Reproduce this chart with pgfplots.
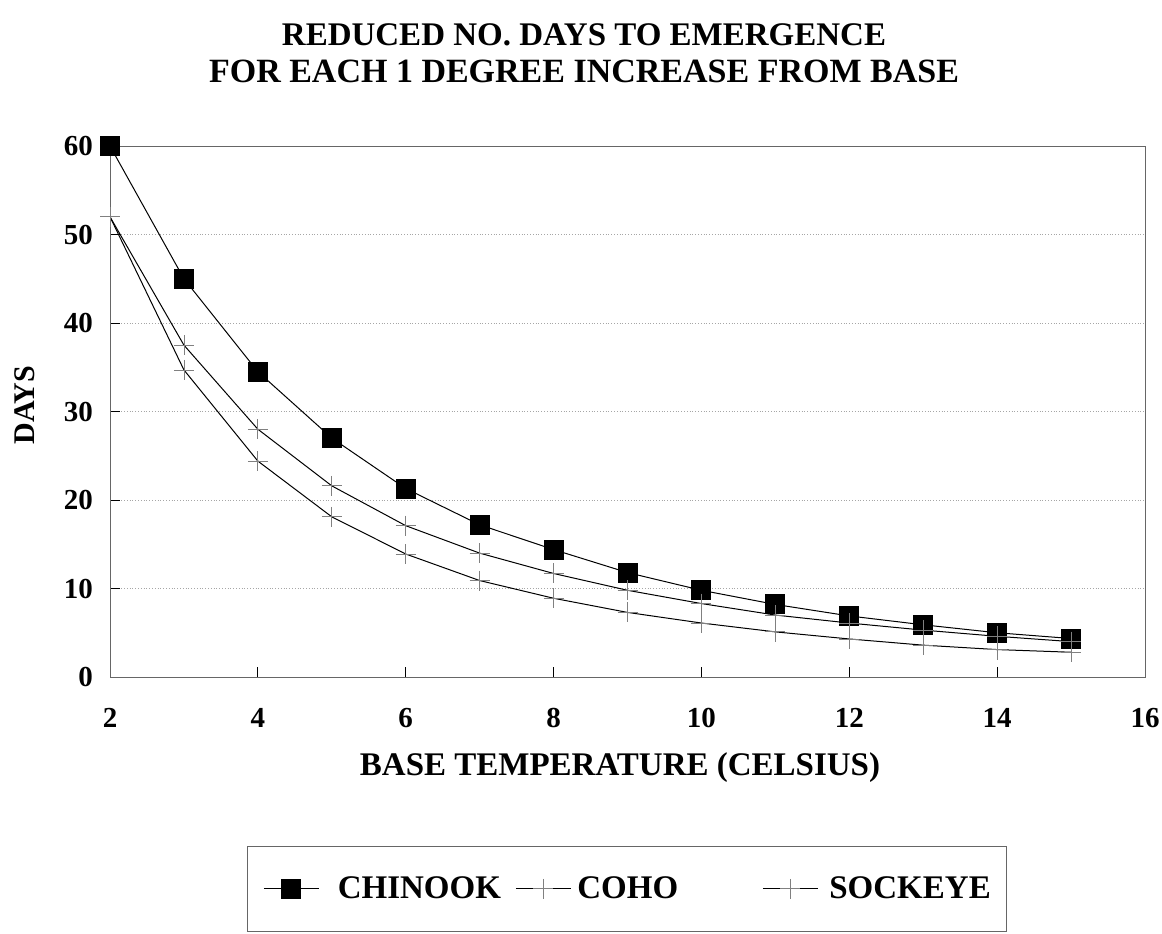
\documentclass[border=0pt]{standalone}
\usepackage{pgfplots}
\pgfplotsset{compat=1.18}
\usepackage{fontspec}
\setmainfont{Liberation Serif}
\begin{document}
\begin{tikzpicture}
\path[use as bounding box] (0,0) rectangle (581pt,-466.5pt);
\begin{axis}[
  at={(55pt,-338.5pt)}, anchor=south west,
  scale only axis, width=517.5pt, height=265.5pt,
  xmin=2, xmax=16, ymin=0, ymax=60,
  xtick={2,4,...,16}, ytick={0,10,...,60},
  tick align=inside, major tick length=5pt,
  xtick pos=bottom, ytick pos=left,
  axis line style={draw=black!60, line width=0.5pt},
  major tick style={black, line width=0.5pt},
  ymajorgrids, grid style={densely dotted, black!35, line width=0.5pt},
  /pgf/number format/assume math mode=true,
  ticklabel style={font=\fontsize{14.5}{14.5}\selectfont\bfseries},
  xticklabel style={yshift=-12pt},
  yticklabel style={xshift=-5pt},
  title={REDUCED NO. DAYS TO EMERGENCE\\{\fontsize{17}{18.5}\selectfont FOR EACH 1 DEGREE INCREASE FROM BASE}},
  title style={at={(0.458,1)}, anchor=center, yshift=40.5pt, align=center, font=\fontsize{16.5}{18.5}\selectfont\bfseries},
  xlabel={BASE TEMPERATURE (CELSIUS)},
  xlabel style={at={(0.4928,0)}, anchor=center, yshift=-45.5pt, font=\fontsize{16.5}{16.5}\selectfont\bfseries},
  ylabel={DAYS},
  ylabel style={at={(axis description cs:-0.0821,0.512)}, anchor=center, font=\fontsize{15}{15}\selectfont\bfseries},
  legend columns=3,
  legend style={at={(0.4996,-0.399)}, anchor=center, draw=black!60, line width=0.5pt,
    inner xsep=8pt, inner ysep=13pt,
    nodes={inner xsep=0pt},
    font=\fontsize{16.5}{16.5}\selectfont\bfseries,
    /tikz/every even column/.append style={column sep=0pt},
    /tikz/every odd column/.append style={column sep=0pt}},
  legend cell align=left,
  legend image code/.code={\draw[mark repeat=2,mark phase=2] plot coordinates {(0pt,0pt)(13.75pt,0pt)(27.5pt,0pt)};},
]
\addplot[black, line width=0.5pt, mark=square*, mark size=4.75pt, mark options={solid, fill=black}] coordinates {
(2,60) (3,45) (4,34.5) (5,27) (6,21.3) (7,17.2) (8,14.4) (9,11.8) (10,9.8) (11,8.2) (12,6.9) (13,5.9) (14,5.0) (15,4.35)};
\addlegendentry{\makebox[98pt][l]{\hspace{9.2pt}CHINOOK}}
\addplot[black, line width=0.5pt, mark=+, mark size=5pt, mark options={black!50, line width=0.4pt}] coordinates {
(2,52) (3,37.5) (4,28.0) (5,21.6) (6,17.1) (7,14.0) (8,11.7) (9,9.8) (10,8.3) (11,7.0) (12,6.1) (13,5.3) (14,4.6) (15,4.0)};
\addlegendentry{\makebox[95.5pt][l]{\hspace{3pt}COHO}}
\addplot[black, line width=0.5pt, mark=+, mark size=5pt, mark options={black!50, line width=0.4pt}] coordinates {
(2,52) (3,34.7) (4,24.4) (5,18.1) (6,13.9) (7,10.9) (8,8.9) (9,7.3) (10,6.1) (11,5.1) (12,4.3) (13,3.6) (14,3.1) (15,2.8)};
\addlegendentry{\hspace{5.5pt}SOCKEYE}
\end{axis}
\end{tikzpicture}
\end{document}
